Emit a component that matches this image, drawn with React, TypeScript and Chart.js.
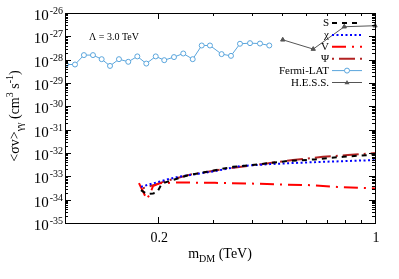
import React, { useEffect, useRef } from "react";
import { Chart, registerables } from "chart.js";

Chart.register(...registerables);

// ---------- data ----------
const fermiMass = [0.1007, 0.1077, 0.1151, 0.1231, 0.1313, 0.1397, 0.1493, 0.16, 0.1711, 0.1829, 0.1962, 0.209, 0.2247, 0.2407, 0.2582, 0.2761, 0.2935, 0.32, 0.3431, 0.3668, 0.3952, 0.4256, 0.456];
const fermiSigma = [6.2e-29, 6.2e-29, 1.57e-28, 1.57e-28, 1.05e-28, 5.4e-29, 1.05e-28, 8.1e-29, 1.38e-28, 6.8e-29, 1.38e-28, 9.5e-29, 1.29e-28, 1.84e-28, 1.05e-28, 4.05e-28, 4.05e-28, 1.73e-28, 1.46e-28, 4.8e-28, 5.1e-28, 4.9e-28, 4.05e-28];

const hessMass = [0.504, 0.632, 0.796, 1.0];
const hessSigma = [7.1e-28, 2.84e-28, 2.58e-27, 2.85e-27];

const sMass = [0.1758, 0.1838, 0.1922, 0.198, 0.2055, 0.2133, 0.2494, 0.2871, 0.348, 0.4256, 0.5201, 0.6406, 0.7884, 1.0];
const sSigma = [2.55e-34, 1.72e-34, 1.84e-34, 2.03e-34, 4.95e-34, 5.8e-34, 1.12e-33, 1.56e-33, 2.56e-33, 3.34e-33, 4.5e-33, 5.3e-33, 6.9e-33, 8.55e-33];

const chiMass = [0.1758, 0.188, 0.2133, 0.2314, 0.3047, 0.3668, 0.4583, 0.5645, 0.716, 1.0];
const chiSigma = [3.53e-34, 4.6e-34, 7.3e-34, 9.5e-34, 1.67e-33, 2.74e-33, 3.34e-33, 3.8e-33, 4.28e-33, 4.97e-33];

const vMass = [0.1732, 0.1784, 0.1833, 0.188, 0.1922, 0.2025, 0.235, 0.3047, 0.3865, 0.4937, 0.6171, 0.754, 1.0];
const vSigma = [5.1e-34, 2.31e-34, 1.05e-34, 1.72e-34, 3.79e-34, 5.1e-34, 5.46e-34, 5.25e-34, 4.95e-34, 4.49e-34, 4.18e-34, 3.53e-34, 3.02e-34];

const psiMass = [0.1784, 0.1951, 0.2133, 0.253, 0.3332, 0.4482, 0.5437, 0.6797, 0.8183, 1.0];
const psiSigma = [3.11e-34, 4.4e-34, 6.53e-34, 1.18e-33, 2.14e-33, 3.58e-33, 4.97e-33, 6.9e-33, 8.14e-33, 9.9e-33];

const legendLabels = ["S", "\u03c7", "V", "\u03a8", "Fermi-LAT", "H.E.S.S."];
const yDecades = [-26, -27, -28, -29, -30, -31, -32, -33, -34, -35];
const xMajorTicks = [0.2, 1];
const xTickLabels = ["0.2", "1"];
const xMinorTicks = [0.3, 0.4, 0.5, 0.6, 0.7, 0.8, 0.9];
const annotationText = "\u039b = 3.0 TeV";

const pts = (xs: number[], ys: number[]) => xs.map((x, i) => ({ x, y: ys[i] }));

const SERIF = "'Liberation Serif', 'DejaVu Serif', serif";

const decor = {
  id: "decor",
  afterDraw(chart: any) {
    const ctx = chart.ctx as CanvasRenderingContext2D;
    const { left, right, top, bottom } = chart.chartArea;
    const xs = chart.scales.x;
    const ys = chart.scales.y;
    ctx.save();
    ctx.strokeStyle = "#000";
    ctx.lineWidth = 1;
    ctx.setLineDash([]);
    // box
    ctx.strokeRect(Math.round(left) + 0.5, Math.round(top) + 0.5, Math.round(right - left), Math.round(bottom - top));
    // y ticks
    ctx.beginPath();
    for (let e = -35; e <= -26; e++) {
      const y = Math.round(ys.getPixelForValue(Math.pow(10, e))) + 0.5;
      ctx.moveTo(left, y); ctx.lineTo(left + 6, y);
      ctx.moveTo(right, y); ctx.lineTo(right - 6, y);
      if (e < -26) {
        for (let m = 2; m <= 9; m++) {
          const ym = Math.round(ys.getPixelForValue(m * Math.pow(10, e))) + 0.5;
          ctx.moveTo(left, ym); ctx.lineTo(left + 3, ym);
          ctx.moveTo(right, ym); ctx.lineTo(right - 3, ym);
        }
      }
    }
    // x ticks
    xMajorTicks.forEach((v) => {
      const x = Math.round(xs.getPixelForValue(v)) + 0.5;
      ctx.moveTo(x, bottom); ctx.lineTo(x, bottom - 6);
      ctx.moveTo(x, top); ctx.lineTo(x, top + 6);
    });
    xMinorTicks.forEach((v) => {
      const x = Math.round(xs.getPixelForValue(v)) + 0.5;
      ctx.moveTo(x, bottom); ctx.lineTo(x, bottom - 3);
      ctx.moveTo(x, top); ctx.lineTo(x, top + 3);
    });
    ctx.stroke();

    ctx.fillStyle = "#000";
    // y tick labels
    yDecades.forEach((e) => {
      const y = ys.getPixelForValue(Math.pow(10, e));
      const exp = String(e);
      ctx.font = `10px ${SERIF}`;
      const we = ctx.measureText(exp).width;
      ctx.font = `15px ${SERIF}`;
      const wb = ctx.measureText("10").width;
      const xr = 63;
      ctx.textAlign = "left";
      ctx.textBaseline = "alphabetic";
      ctx.fillText("10", xr - we - wb - 1, y + 7);
      ctx.font = `10px ${SERIF}`;
      ctx.fillText(exp, xr - we, y + 1);
    });
    // x tick labels
    ctx.font = `14px ${SERIF}`;
    ctx.textAlign = "center";
    ctx.textBaseline = "alphabetic";
    xMajorTicks.forEach((v, i) => {
      ctx.fillText(xTickLabels[i], xs.getPixelForValue(v) + 1, bottom + 19);
    });

    // x title: m_DM (TeV)
    {
      ctx.textAlign = "left";
      const segs: [string, number, number][] = [["m", 14, 0], ["DM", 10, 4], [" (TeV)", 14, 0]];
      let total = 0;
      segs.forEach(([t, s]) => { ctx.font = `${s}px ${SERIF}`; total += ctx.measureText(t).width; });
      let x = (left + right) / 2 - total / 2;
      const base = bottom + 35;
      segs.forEach(([t, s, dy]) => {
        ctx.font = `${s}px ${SERIF}`;
        ctx.fillText(t, x, base + dy);
        x += ctx.measureText(t).width;
      });
    }
    // y title
    {
      ctx.save();
      ctx.translate(19, 116);
      ctx.rotate(-Math.PI / 2);
      ctx.textAlign = "left";
      const segs: [string, number, number][] = [
        ["<\u03c3v>", 14, 0], ["\u03b3\u03b3", 10, 4], [" (cm", 14, 0], ["3", 10, -6], [" s", 14, 0], ["-1", 10, -6], [")", 14, 0],
      ];
      let total = 0;
      segs.forEach(([t, s]) => { ctx.font = `${s}px ${SERIF}`; total += ctx.measureText(t).width; });
      let x = -total / 2;
      segs.forEach(([t, s, dy]) => {
        ctx.font = `${s}px ${SERIF}`;
        ctx.fillText(t, x, dy);
        x += ctx.measureText(t).width;
      });
      ctx.restore();
    }
    // annotation
    ctx.font = `10px ${SERIF}`;
    ctx.textAlign = "left";
    ctx.fillText(annotationText, 89, 40);

    // legend
    const ds = chart.data.datasets;
    ctx.font = `11px ${SERIF}`;
    ds.forEach((d: any, i: number) => {
      const y = 23 + i * 11.9;
      ctx.fillStyle = "#000";
      ctx.textAlign = "right";
      ctx.textBaseline = "middle";
      ctx.fillText(legendLabels[i], 329, y + 0.5);
      ctx.strokeStyle = d.borderColor;
      ctx.lineWidth = d.borderWidth;
      ctx.setLineDash(d.borderDash || []);
      ctx.beginPath();
      ctx.moveTo(332, y);
      ctx.lineTo(362, y);
      ctx.stroke();
      ctx.setLineDash([]);
      if (d.pointRadius > 0) {
        ctx.lineWidth = 1;
        ctx.beginPath();
        const cx = 347;
        const r = d.pointRadius;
        if (d.pointStyle === "triangle") {
          ctx.fillStyle = d.borderColor;
          ctx.moveTo(cx, y - r);
          ctx.lineTo(cx + r, y + r * 0.7);
          ctx.lineTo(cx - r, y + r * 0.7);
          ctx.closePath();
          ctx.fill();
        } else {
          ctx.fillStyle = "#fff";
          ctx.arc(cx, y, r, 0, Math.PI * 2);
          ctx.fill();
          ctx.stroke();
        }
      }
    });
    ctx.restore();
  },
};

export default function App() {
  const ref = useRef<HTMLCanvasElement>(null);
  useEffect(() => {
    if (!ref.current) return;
    const chart = new Chart(ref.current, {
      type: "scatter",
      data: {
        datasets: [
          { label: "S", data: pts(sMass, sSigma), showLine: true, borderColor: "#000000", borderWidth: 2, borderDash: [5, 5], pointRadius: 0, fill: false },
          { label: "\u03c7", data: pts(chiMass, chiSigma), showLine: true, borderColor: "#0000ff", borderWidth: 2, borderDash: [2, 2.5], pointRadius: 0, fill: false },
          { label: "V", data: pts(vMass, vSigma), showLine: true, borderColor: "#ff0000", borderWidth: 2, borderDash: [14, 6, 2, 6], pointRadius: 0, fill: false },
          { label: "\u03a8", data: pts(psiMass, psiSigma), showLine: true, borderColor: "#b22222", borderWidth: 2, borderDash: [2, 5, 16, 5], pointRadius: 0, fill: false },
          { label: "Fermi-LAT", data: pts(fermiMass, fermiSigma), showLine: true, borderColor: "#5aa5dc", backgroundColor: "#ffffff", borderWidth: 1, pointRadius: 2.5, pointBorderWidth: 1, pointStyle: "circle", fill: false },
          { label: "H.E.S.S.", data: pts(hessMass, hessSigma), showLine: true, borderColor: "#555555", backgroundColor: "#555555", borderWidth: 1, pointRadius: 2.5, pointStyle: "triangle", fill: false, clip: false },
        ] as any,
      },
      options: {
        animation: false,
        responsive: false,
        devicePixelRatio: 1,
        layout: { padding: { left: 65, top: 13, right: 24, bottom: 56 } },
        plugins: { legend: { display: false }, tooltip: { enabled: false }, title: { display: false } },
        elements: { line: { tension: 0 } },
        scales: {
          x: { type: "logarithmic", min: 0.1, max: 1, display: false },
          y: { type: "logarithmic", min: 1e-35, max: 1e-26, display: false },
        },
      },
      plugins: [decor],
    });
    return () => chart.destroy();
  }, []);
  return (
    <div style={{ position: "fixed", left: 0, top: 0, width: 399, height: 279, background: "#fff" }}>
      <canvas ref={ref} width={399} height={279} style={{ display: "block" }} />
    </div>
  );
}
